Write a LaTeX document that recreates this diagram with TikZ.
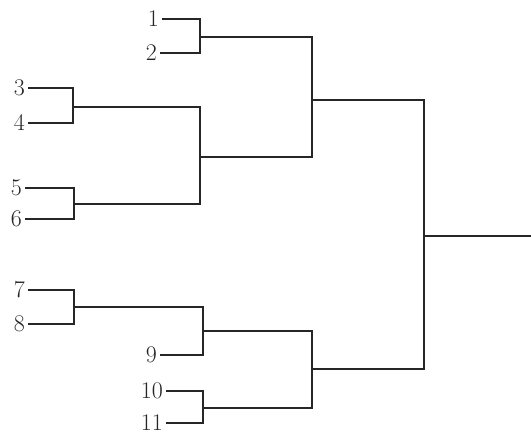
\documentclass[tikz,border=0pt]{standalone}
\begin{document}
\begin{tikzpicture}[x=1bp,y=-1bp,
  leaf/.style={anchor=east,inner xsep=3bp,inner ysep=0bp,font=\fontsize{24}{26}\selectfont,text=black!85},
  link/.style={draw=black!85,line width=1.2bp}]
\useasboundingbox (0,0) rectangle (531,435);
% leaves
\node[leaf] (n1) at (162,19) {1};
\node[leaf] (n2) at (160,53) {2};
\node[leaf] (n3) at (28,88) {3};
\node[leaf] (n4) at (28,123) {4};
\node[leaf] (n5) at (25,188) {5};
\node[leaf] (n6) at (25,219) {6};
\node[leaf] (n7) at (28,290) {7};
\node[leaf] (n8) at (28,324) {8};
\node[leaf] (n9) at (160,355) {9};
\node[leaf] (n10) at (166,391) {10};
\node[leaf] (n11) at (166,423) {11};
% junctions
\coordinate (b12) at (200,37);
\coordinate (b34) at (73,107);
\coordinate (b56) at (74,204);
\coordinate (b3456) at (200,157);
\coordinate (bA) at (312,100);
\coordinate (b78) at (74,307);
\coordinate (b789) at (203,331);
\coordinate (b1011) at (203,408);
\coordinate (bB) at (312,369);
\coordinate (root) at (424,236);
\coordinate (rend) at (531,236);
% links
\draw[link] (n1.east) -| (b12) |- (n2.east);
\draw[link] (n3.east) -| (b34) |- (n4.east);
\draw[link] (n5.east) -| (b56) |- (n6.east);
\draw[link] (b34) -| (b3456) |- (b56);
\draw[link] (b12) -| (bA) |- (b3456);
\draw[link] (n7.east) -| (b78) |- (n8.east);
\draw[link] (b78) -| (b789) |- (n9.east);
\draw[link] (n10.east) -| (b1011) |- (n11.east);
\draw[link] (b789) -| (bB) |- (b1011);
\draw[link] (bA) -| (root) |- (bB);
\draw[link] (root) -- (rend);
\end{tikzpicture}
\end{document}
